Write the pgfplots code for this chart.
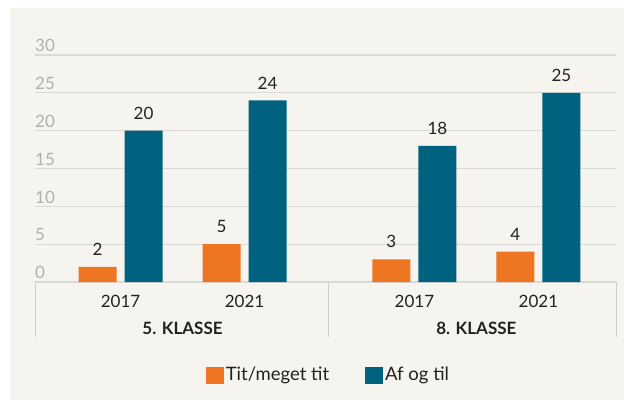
\documentclass[border=0pt]{standalone}
\usepackage{pgfplots}
\pgfplotsset{compat=1.18}
\usepackage{fontspec}
\setmainfont{Lato}
\definecolor{bgcol}{HTML}{F5F4EF}
\definecolor{gridcol}{HTML}{D9D9D7}
\definecolor{boxcol}{HTML}{CDCDCB}
\definecolor{tickcol}{HTML}{B0B0B0}
\definecolor{orangebar}{HTML}{EE7623}
\definecolor{tealbar}{HTML}{00627E}
\definecolor{txt}{HTML}{222222}
\begin{document}
\fontsize{17}{20}\selectfont
\begin{tikzpicture}[x=1pt,y=1pt]
\useasboundingbox (0,0) rectangle (624,400);
\fill[white] (0,0) rectangle (624,400);
\fill[bgcol] (10,0) rectangle (624,392);
\begin{axis}[
  at={(35pt,118pt)}, anchor=south west,
  scale only axis, width=581pt, height=227pt,
  xmin=-0.69, xmax=3.996, ymin=0, ymax=30,
  clip=false,
  ybar=8pt, bar width=38pt,
  axis line style={draw=none},
  major tick length=0pt,
  ytick={0,5,10,15,20,25,30},
  ymajorgrids, grid style={gridcol, line width=1.2pt},
  /pgf/number format/assume math mode=true,
  yticklabel style={anchor=south west, inner sep=0pt, yshift=3pt, text=tickcol, font=\fontsize{17}{20}\selectfont},
  xtick={0,1,2.37,3.37}, xticklabels={2017,2021,2017,2021},
  xticklabel style={anchor=center, inner sep=0pt, yshift=-19pt, text=txt, font=\fontsize{17}{20}\selectfont},
  nodes near coords,
  every node near coord/.append style={anchor=south, inner sep=0pt, yshift=11pt, text=txt, font=\fontsize{17}{20}\selectfont},
  legend style={at={(0.505,-0.41)}, anchor=center, draw=none, fill=none, legend columns=2,
    font=\fontsize{18.5}{22}\selectfont, text=txt,
    /tikz/every even column/.append style={column sep=34pt}},
  legend image code/.code={\fill[#1] (0pt,-8.5pt) rectangle (18pt,8.5pt);},
]
\addplot[fill=orangebar, draw=none] coordinates {(0,2) (1,5) (2.37,3) (3.37,4)};
\addplot[fill=tealbar, draw=none] coordinates {(0,20) (1,24) (2.37,18) (3.37,25)};
\legend{Tit/meget tit, Af og til}
\draw[boxcol, line width=1pt] (rel axis cs:0,0) -- ++(0pt,-55pt);
\draw[boxcol, line width=1pt] (axis cs:1.68,0) -- ++(0pt,-55pt);
\draw[boxcol, line width=1pt] (rel axis cs:1,0) -- ++(0pt,-55pt);
\node[text=txt, font=\fontsize{17}{20}\selectfont\bfseries, inner sep=0pt] at ([yshift=-46pt]axis cs:0.5,0) {5. KLASSE};
\node[text=txt, font=\fontsize{17}{20}\selectfont\bfseries, inner sep=0pt] at ([yshift=-46pt]axis cs:2.87,0) {8. KLASSE};
\end{axis}
\end{tikzpicture}
\end{document}
